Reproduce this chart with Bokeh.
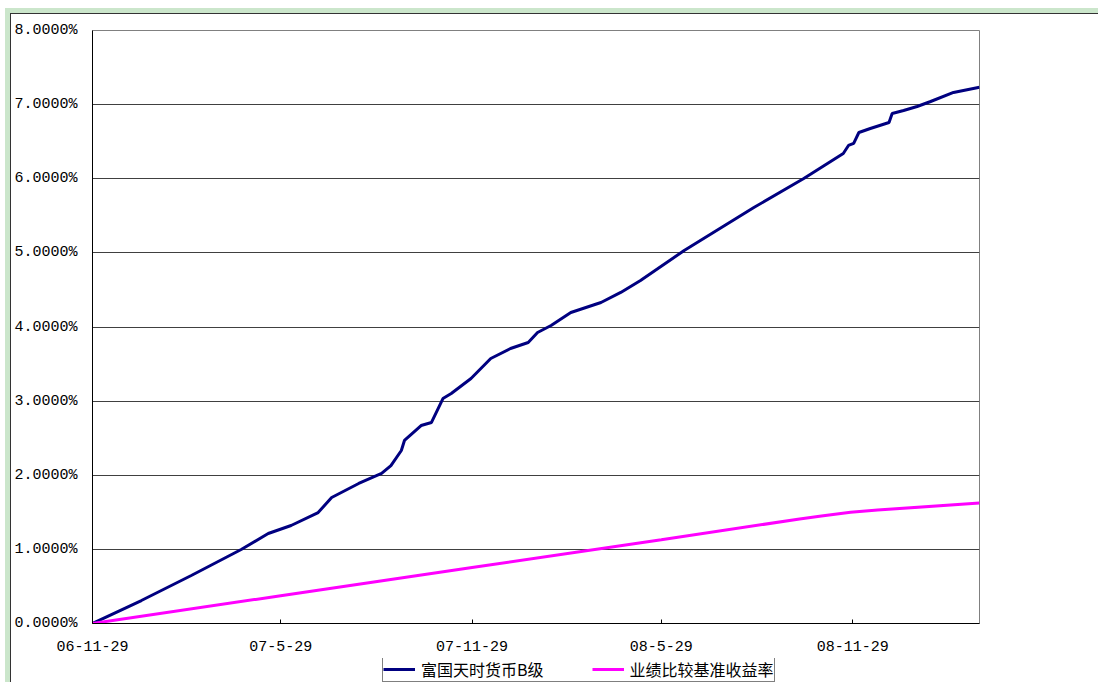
import pandas as pd
from bokeh.plotting import figure
from bokeh.models import Range1d, FixedTicker, Legend, LegendItem
from bokeh.layouts import column
from bokeh.embed import file_html
from bokeh.resources import INLINE

# ---------------- data ----------------
series_names = ["富国天时货币B级", "业绩比较基准收益率"]

fund_dates = [
    "2006-11-29", "2007-01-15", "2007-03-04", "2007-04-21", "2007-05-17",
    "2007-06-08", "2007-07-04", "2007-07-17", "2007-08-12", "2007-09-03",
    "2007-09-12", "2007-09-22", "2007-09-25", "2007-10-11", "2007-10-21",
    "2007-11-01", "2007-11-09", "2007-11-28", "2007-12-17", "2008-01-05",
    "2008-01-22", "2008-01-31", "2008-02-13", "2008-03-03", "2008-04-01",
    "2008-04-20", "2008-05-09", "2008-06-20", "2008-08-26", "2008-10-13",
    "2008-11-20", "2008-11-25", "2008-11-30", "2008-12-05", "2008-12-16",
    "2009-01-03", "2009-01-06", "2009-01-17", "2009-01-30", "2009-02-12",
    "2009-03-06", "2009-03-31",
]
fund_values = [
    0.000, 0.310, 0.648, 0.998, 1.214,
    1.322, 1.497, 1.700, 1.889, 2.024,
    2.131, 2.334, 2.469, 2.671, 2.712,
    3.035, 3.103, 3.305, 3.575, 3.710,
    3.791, 3.926, 4.020, 4.196, 4.331,
    4.466, 4.627, 5.032, 5.612, 6.003,
    6.341, 6.449, 6.476, 6.624, 6.678,
    6.759, 6.880, 6.921, 6.975, 7.042,
    7.164, 7.235,
]

bench_dates = [
    "2006-11-29", "2007-05-29", "2007-11-29", "2008-05-29", "2008-10-09",
    "2008-10-30", "2008-11-27", "2008-12-23", "2009-03-31",
]
bench_values = [
    0.000, 0.375, 0.755, 1.130, 1.410,
    1.450, 1.500, 1.530, 1.625,
]

x_tick_dates = ["2006-11-29", "2007-05-29", "2007-11-29", "2008-05-29", "2008-11-29"]
x_tick_labels = ["06-11-29", "07-5-29", "07-11-29", "08-5-29", "08-11-29"]
x_start, x_end = "2006-11-29", "2009-03-31"

y_ticks = [0, 1, 2, 3, 4, 5, 6, 7, 8]
y_tick_labels = ["0.0000%", "1.0000%", "2.0000%", "3.0000%", "4.0000%",
                 "5.0000%", "6.0000%", "7.0000%", "8.0000%"]

line_colors = ["#000080", "#FF00FF"]

# ---------------- main figure ----------------
def ms(d):
    return pd.Timestamp(d).value // 10**6

fd = pd.to_datetime(fund_dates)
bd = pd.to_datetime(bench_dates)

W = 1087

p = figure(width=W, height=644, x_axis_type="datetime",
           output_backend="svg", toolbar_location=None,
           x_range=Range1d(pd.Timestamp(x_start), pd.Timestamp(x_end)),
           y_range=Range1d(0, 8),
           min_border_left=80, min_border_top=16, min_border_right=W - 80 - 888,
           min_border_bottom=35)
p.border_fill_color = "white"
p.background_fill_color = "white"
p.outline_line_color = "#808080"
p.outline_line_width = 1

p.line(fd, fund_values, line_color=line_colors[0], line_width=3)
p.line(bd, bench_values, line_color=line_colors[1], line_width=3)

tick_ms = [ms(d) for d in x_tick_dates]
p.xaxis.ticker = FixedTicker(ticks=tick_ms)
p.xaxis.major_label_overrides = {t: lab for t, lab in zip(tick_ms, x_tick_labels)}
p.yaxis.ticker = FixedTicker(ticks=y_ticks)
p.yaxis.major_label_overrides = {t: lab for t, lab in zip(y_ticks, y_tick_labels)}

for ax in (p.xaxis[0], p.yaxis[0]):
    ax.axis_line_color = "black"
    ax.axis_line_width = 1
    ax.major_label_text_font = "Liberation Mono"
    ax.major_label_text_font_size = "15px"
    ax.major_label_text_color = "black"
    ax.minor_tick_line_color = None

p.xaxis.major_tick_in = 4
p.xaxis.major_tick_out = 0
p.xaxis.major_tick_line_color = "black"
p.xaxis.major_label_standoff = 17
p.yaxis.major_tick_in = 0
p.yaxis.major_tick_out = 0
p.yaxis.major_label_standoff = 15

p.xgrid.grid_line_color = None
p.ygrid.grid_line_color = "#404040"
p.ygrid.grid_line_width = 1

# ---------------- legend strip ----------------
lg = figure(width=W, height=24, output_backend="svg", toolbar_location=None,
            x_range=Range1d(0, 1), y_range=Range1d(0, 1),
            x_axis_location=None, y_axis_location=None, min_border=0)
lg.outline_line_color = None
lg.border_fill_color = "white"
lg.background_fill_color = "white"
lg.xgrid.grid_line_color = None
lg.ygrid.grid_line_color = None
# legend-only renderers: same series, lying outside this strip's ranges
lr1 = lg.line(fd, fund_values, line_color=line_colors[0], line_width=3)
lr2 = lg.line(bd, bench_values, line_color=line_colors[1], line_width=3)

legend = Legend(items=[LegendItem(label=series_names[0], renderers=[lr1]),
                       LegendItem(label=series_names[1], renderers=[lr2])],
                orientation="horizontal", location=(290, 0))
legend.border_line_color = "black"
legend.border_line_width = 1
legend.background_fill_color = "white"
legend.background_fill_alpha = 1
legend.label_text_font = "Noto Sans CJK SC"
legend.label_text_font_size = "16px"
legend.label_text_color = "black"
legend.glyph_width = 32
legend.glyph_height = 16
legend.label_height = 16
legend.label_standoff = 6
legend.spacing = 48
legend.padding = 0
legend.margin = 0
lg.add_layout(legend, "center")

white = column(p, lg, spacing=0, styles={"background-color": "white"})
inner = column(white, styles={"background-color": "#333333", "padding-top": "1px", "padding-left": "1px"})
green = column(inner, styles={"background-color": "#cbe6cb", "padding-top": "5px", "padding-left": "5px"})
outer = column(green, styles={"background-color": "white", "padding-top": "8px", "padding-left": "5px"})

open("out.html", "w").write(file_html(outer, INLINE))
